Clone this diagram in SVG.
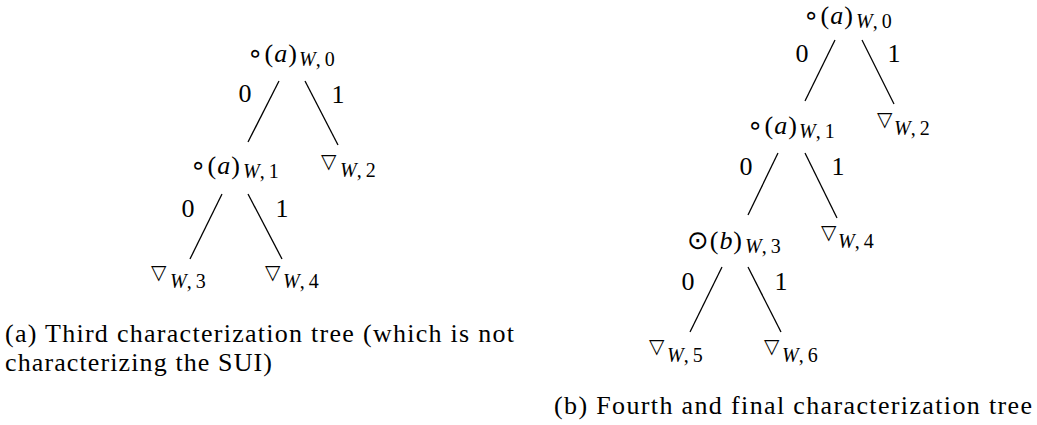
<svg xmlns="http://www.w3.org/2000/svg" width="1037" height="425" viewBox="0 0 1037 425">
<style>
text { font-family: "Liberation Serif", "DejaVu Serif", serif; fill: #000; }
.m { font-size: 26px; }
.s { font-size: 20px; }
.it { font-style: italic; }
.lbl { font-size: 26px; text-anchor: middle; }
.cap { font-size: 26px; }
.tri { font-family: "DejaVu Sans", sans-serif; font-size: 20px; }
.sym { font-family: "DejaVu Sans", sans-serif; }
.e { stroke: #000; stroke-width: 1.3; fill: none; }
</style>
<rect width="1037" height="425" fill="#fff"/>

<g id="connectors">
  <line class="e" x1="279" y1="81" x2="248" y2="142"/>
  <line class="e" x1="305" y1="81" x2="338" y2="145"/>
  <line class="e" x1="222" y1="194" x2="190" y2="259"/>
  <line class="e" x1="248" y1="194" x2="282" y2="259"/>
  <line class="e" x1="835" y1="40" x2="805" y2="101"/>
  <line class="e" x1="862" y1="40" x2="894" y2="104"/>
  <line class="e" x1="778" y1="153" x2="748" y2="215"/>
  <line class="e" x1="805" y1="153" x2="837" y2="218"/>
  <line class="e" x1="722" y1="267" x2="690" y2="332"/>
  <line class="e" x1="748" y1="267" x2="781" y2="332"/>
</g>

<g id="edge-labels">
  <text class="lbl" x="245" y="102">0</text>
  <text class="lbl" x="338" y="103">1</text>
  <text class="lbl" x="188" y="217">0</text>
  <text class="lbl" x="282" y="217">1</text>
  <text class="lbl" x="802" y="62">0</text>
  <text class="lbl" x="894" y="62">1</text>
  <text class="lbl" x="746" y="175">0</text>
  <text class="lbl" x="838" y="175">1</text>
  <text class="lbl" x="688" y="290">0</text>
  <text class="lbl" x="781" y="290">1</text>
</g>

<g id="a-root">
  <text class="m" x="247" y="62" textLength="50" lengthAdjust="spacing"><tspan class="sym">∘</tspan>(<tspan class="it">a</tspan>)</text>
  <text class="s" x="299" y="66"><tspan class="it">W</tspan>,<tspan dx="4">0</tspan></text>
</g>
<g id="a-n1">
  <text class="m" x="190" y="174" textLength="50" lengthAdjust="spacing"><tspan class="sym">∘</tspan>(<tspan class="it">a</tspan>)</text>
  <text class="s" x="243" y="178"><tspan class="it">W</tspan>,<tspan dx="4">1</tspan></text>
</g>
<g id="a-n2">
  <text class="tri" x="321" y="168">▽</text>
  <text class="s" x="340" y="177"><tspan class="it">W</tspan>,<tspan dx="4">2</tspan></text>
</g>
<g id="a-n3">
  <text class="tri" x="151" y="279">▽</text>
  <text class="s" x="170" y="288"><tspan class="it">W</tspan>,<tspan dx="4">3</tspan></text>
</g>
<g id="a-n4">
  <text class="tri" x="265" y="279">▽</text>
  <text class="s" x="283" y="288"><tspan class="it">W</tspan>,<tspan dx="4">4</tspan></text>
</g>
<g id="caption-a">
  <text class="cap" x="5" y="342" textLength="509" lengthAdjust="spacing">(a) Third characterization tree (which is not</text>
  <text class="cap" x="5" y="371" textLength="267" lengthAdjust="spacing">characterizing the SUI)</text>
</g>

<g id="b-root">
  <text class="m" x="803" y="24" textLength="50" lengthAdjust="spacing"><tspan class="sym">∘</tspan>(<tspan class="it">a</tspan>)</text>
  <text class="s" x="856" y="28"><tspan class="it">W</tspan>,<tspan dx="4">0</tspan></text>
</g>
<g id="b-n1">
  <text class="m" x="747" y="134" textLength="50" lengthAdjust="spacing"><tspan class="sym">∘</tspan>(<tspan class="it">a</tspan>)</text>
  <text class="s" x="799" y="138"><tspan class="it">W</tspan>,<tspan dx="4">1</tspan></text>
</g>
<g id="b-n2">
  <text class="tri" x="877" y="126">▽</text>
  <text class="s" x="894" y="135"><tspan class="it">W</tspan>,<tspan dx="4">2</tspan></text>
</g>
<g id="b-n3">
  <text class="m" x="687" y="249" textLength="55" lengthAdjust="spacing"><tspan class="sym">⊙</tspan>(<tspan class="it">b</tspan>)</text>
  <text class="s" x="745" y="253"><tspan class="it">W</tspan>,<tspan dx="4">3</tspan></text>
</g>
<g id="b-n4">
  <text class="tri" x="821" y="239">▽</text>
  <text class="s" x="838" y="248"><tspan class="it">W</tspan>,<tspan dx="4">4</tspan></text>
</g>
<g id="b-n5">
  <text class="tri" x="649" y="353">▽</text>
  <text class="s" x="667" y="362"><tspan class="it">W</tspan>,<tspan dx="4">5</tspan></text>
</g>
<g id="b-n6">
  <text class="tri" x="764" y="353">▽</text>
  <text class="s" x="782" y="362"><tspan class="it">W</tspan>,<tspan dx="4">6</tspan></text>
</g>
<g id="caption-b">
  <text class="cap" x="554" y="414" textLength="478" lengthAdjust="spacing">(b) Fourth and final characterization tree</text>
</g>
</svg>
